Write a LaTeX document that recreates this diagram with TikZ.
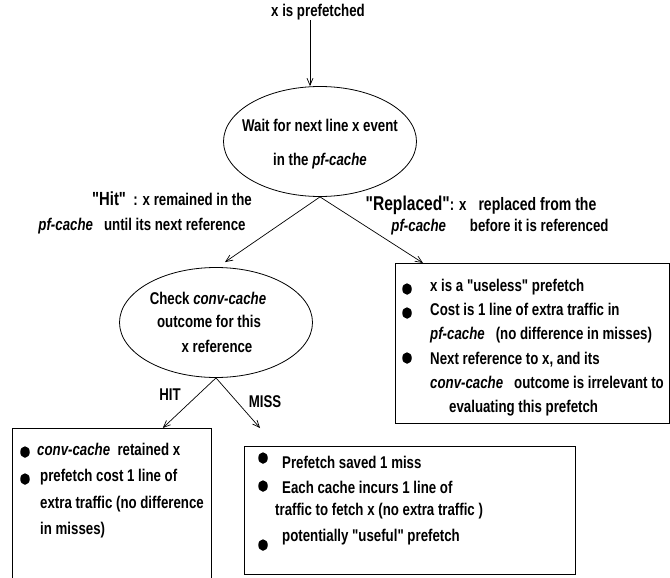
\documentclass[tikz,border=0pt]{standalone}
\usepackage{fontspec}
\newfontfamily\figfont{Liberation Sans}[FakeStretch=0.78]
\usetikzlibrary{shapes.geometric,arrows.meta}
\tikzset{
  txt/.style={font=\figfont\fontsize{17}{20}\selectfont\bfseries, inner sep=0pt, anchor=mid},
  oval/.style={draw, ellipse, line width=0.8pt, minimum width=193pt, minimum height=110pt, inner sep=0pt},
  frame/.style={draw, line width=0.8pt, inner sep=0pt, anchor=north west},
  link/.style={draw, line width=0.7pt, -{Straight Barb[length=7pt,width=6pt]}},
  dot/.style={fill, ellipse, minimum width=9.5pt, minimum height=11.5pt, inner sep=0pt},
}
\newcommand{\bigq}[1]{{\fontsize{19}{22}\selectfont #1}}

\begin{document}
\begin{tikzpicture}[x=1pt,y=-1pt]
  \clip (0,0) rectangle (670,578);

  \node[txt] (start) at (318,14) {x is prefetched};

  \node[oval] (wait) at (320,141.5) {};
  \node[txt] (wait1) at (320,129) {Wait for next line x event};
  \node[txt] (wait2) at (320,163) {in the \textit{pf-cache}};
  \draw[link] ([xshift=-8pt]start.south) -- ([xshift=-10pt]wait.north);

  % pf-cache branches
  \node[txt] (hitA) at (172,203) {\bigq{"Hit"}\ \ : x remained in the};
  \node[txt] (hitB) at (142,228) {\textit{pf-cache}\ \ \ until its next reference};
  \node[txt] (repA) at (481,208) {{\fontsize{20}{23}\selectfont"Replaced"}: x\hspace{12pt}{\fontsize{18}{21}\selectfont replaced from the}};
  \node[txt] (repB) at (500,229) {\textit{pf-cache}\hspace{24pt}before it is referenced};

  \node[oval] (check) at (216,322.5) {};
  \node[txt] (check1) at (208,302) {Check \textit{conv-cache}};
  \node[txt] (check2) at (209,325) {outcome for this};
  \node[txt] (check3) at (217,350) {x reference};

  \node[frame, minimum width=273.5pt, minimum height=160pt] (useless) at (395,263) {};
  \draw[link] (wait.south) -- ([shift={(9,-5)}]check.north);
  \draw[link] (wait.south) -- ([xshift=28pt]useless.north west);

  \node[dot] (u1) at (407,289) {};
  \node[dot] (u2) at (407,313) {};
  \node[dot] (u3) at (407,358) {};
  \node[txt, anchor=mid west] (uA) at (430,289) {x is a "useless" prefetch};
  \node[txt, anchor=mid west] (uB) at (430,313) {Cost is 1 line of extra traffic in};
  \node[txt, anchor=mid west] (uC) at (430,337) {\textit{pf-cache}\ \ \ (no difference in misses)};
  \node[txt, anchor=mid west] (uD) at (430,362) {Next reference to x, and its};
  \node[txt, anchor=mid west] (uE) at (430,386) {\textit{conv-cache}\ \ \ outcome is irrelevant to};
  \node[txt, anchor=mid west] (uF) at (449,410) {evaluating this prefetch};

  % conv-cache outcome
  \node[txt] (hitlab) at (170,398) {HIT};
  \node[txt] (misslab) at (265,405) {MISS};
  \node[frame, minimum width=199pt, minimum height=170pt] (hitbox) at (12,428) {};
  \node[frame, minimum width=331pt, minimum height=128pt] (missbox) at (244,446) {};
  \draw[link] (check.south) -- ([xshift=-49pt]hitbox.north east);
  \draw[link] (check.south) -- ([shift={(16,-18)}]missbox.north west);

  \node[dot] (h1) at (25,452) {};
  \node[dot] (h2) at (25,479) {};
  \node[txt, anchor=mid west] (hA) at (37,453) {\textit{conv-cache}\ \ retained x};
  \node[txt, anchor=mid west] (hB) at (40,479) {prefetch cost 1 line of};
  \node[txt, anchor=mid west] (hC) at (40,506) {extra traffic (no difference};
  \node[txt, anchor=mid west] (hD) at (40,532) {in misses)};

  \node[dot] (m1) at (263,458) {};
  \node[dot] (m2) at (263,486) {};
  \node[dot] (m3) at (263,545) {};
  \node[txt, anchor=mid west] (mA) at (282,466) {Prefetch saved 1 miss};
  \node[txt, anchor=mid west] (mB) at (282,491) {Each cache incurs 1 line of};
  \node[txt, anchor=mid west] (mC) at (275,513) {traffic to fetch x (no extra traffic )};
  \node[txt, anchor=mid west] (mD) at (282,539) {potentially "useful" prefetch};
\end{tikzpicture}
\end{document}
